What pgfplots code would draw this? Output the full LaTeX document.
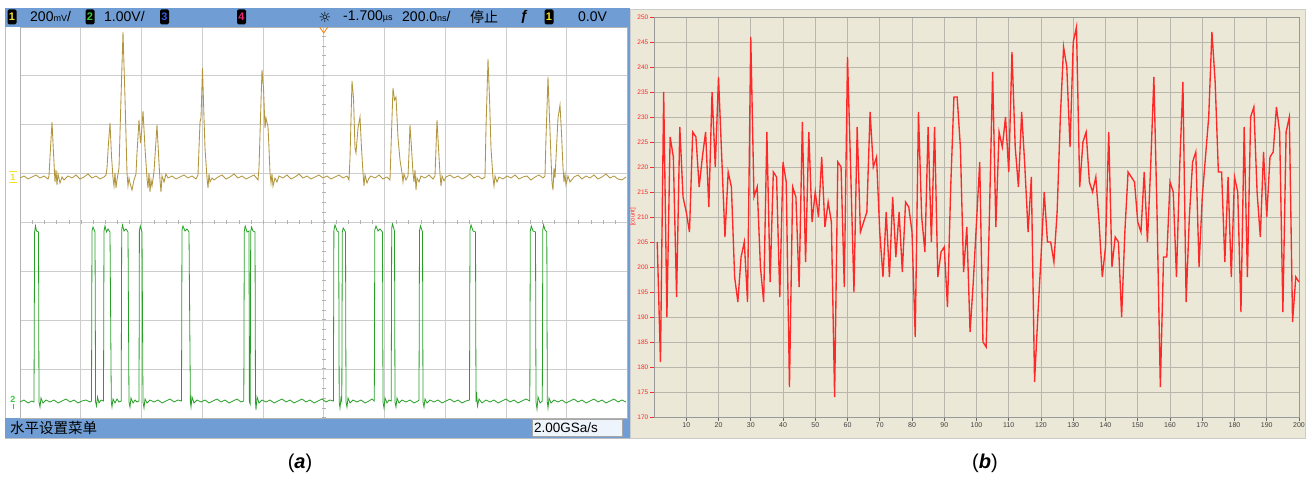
\documentclass[border=0pt]{standalone}
\usepackage{fontspec}
\setmainfont{Liberation Sans}
\newfontfamily\cjk{Noto Sans CJK SC}
\newfontfamily\dejavu{DejaVu Sans}
\usepackage{pgfplots}
\pgfplotsset{compat=1.18}
\definecolor{scopeblue}{RGB}{112,158,212}
\definecolor{yel}{RGB}{178,150,62}
\definecolor{grn}{RGB}{40,160,40}
\definecolor{beige}{RGB}{236,232,216}
\definecolor{gridg}{RGB}{205,205,205}
\definecolor{gridb}{RGB}{185,182,172}
\definecolor{redl}{RGB}{255,40,40}
\definecolor{ch3}{RGB}{50,90,230}
\definecolor{ch4}{RGB}{235,40,120}
\definecolor{chy}{RGB}{245,225,40}
\definecolor{chg}{RGB}{60,200,60}
\begin{document}
\begin{tikzpicture}
% ---------- panel (b) background ----------
\fill[white] (0pt,0pt) rectangle (1309pt,478pt);
\fill[beige] (630pt,40pt) rectangle (1305pt,469pt);
\draw[gray!40] (630pt,40pt) rectangle (1305pt,469pt);
% ---------- panel (b) axis ----------
\begin{axis}[xshift=654pt, yshift=61pt, scale only axis,
  width=645pt, height=400pt, xmin=0, xmax=200, ymin=170, ymax=250,
  xtick={10,20,30,40,50,60,70,80,90,100,110,120,130,140,150,160,170,180,190,200},
  xticklabels={10,20,30,40,50,60,70,80,90,100,110,120,130,140,150,160,170,180,190,200},
  ytick={170,175,180,185,190,195,200,205,210,215,220,225,230,235,240,245,250},
  yticklabels={170,175,180,185,190,195,200,205,210,215,220,225,230,235,240,245,250},
  grid=major, grid style={gridb, line width=0.8pt},
  axis line style={draw=gray!80, line width=0.8pt},
  tick pos=left, tick align=outside, major tick length=4pt,
  tick style={gray!80!black, line width=0.6pt},
  xticklabel style={font=\fontsize{7}{7}\selectfont, text=darkgray, inner sep=1.5pt},
  yticklabel style={font=\fontsize{6.5}{6.5}\selectfont, text=redl, inner sep=1.5pt},
  clip=false]
\pgfplotsinvokeforeach{170,175,...,250}{\draw[redl, line width=0.7pt] (axis cs:0,#1) -- ++(-4pt,0pt);}
\addplot[redl, line width=1.35pt] coordinates {
(1,205)(2,181)(3,235)(4,190)(5,226)(6,222)(7,194)(8,228)(9,214)(10,211)
(11,207)(12,227)(13,226)(14,216)(15,222)(16,227)(17,212)(18,235)(19,220)(20,238)
(21,222)(22,206)(23,219)(24,216)(25,198)(26,193)(27,202)(28,205)(29,193)(30,246)
(31,214)(32,216)(33,200)(34,193)(35,227)(36,197)(37,219)(38,218)(39,194)(40,221)
(41,217)(42,176)(43,216)(44,214)(45,196)(46,229)(47,201)(48,227)(49,209)(50,215)
(51,210)(52,222)(53,208)(54,213)(55,209)(56,174)(57,221)(58,220)(59,196)(60,242)
(61,219)(62,195)(63,228)(64,207)(65,209)(66,211)(67,231)(68,220)(69,222)(70,207)
(71,198)(72,211)(73,198)(74,214)(75,202)(76,211)(77,199)(78,213)(79,212)(80,207)
(81,186)(82,231)(83,210)(84,203)(85,228)(86,205)(87,228)(88,198)(89,203)(90,204)
(91,192)(92,216)(93,234)(94,234)(95,224)(96,199)(97,208)(98,187)(99,197)(100,209)
(101,221)(102,185)(103,184)(104,210)(105,239)(106,208)(107,227)(108,224)(109,230)(110,219)
(111,243)(112,224)(113,216)(114,231)(115,220)(116,207)(117,218)(118,177)(119,190)(120,202)
(121,215)(122,205)(123,205)(124,201)(125,211)(126,230)(127,244)(128,240)(129,224)(130,245)
(131,248)(132,216)(133,225)(134,227)(135,217)(136,215)(137,218)(138,209)(139,198)(140,204)
(141,227)(142,200)(143,206)(144,205)(145,190)(146,207)(147,219)(148,218)(149,217)(150,209)
(151,207)(152,219)(153,205)(154,220)(155,238)(156,210)(157,176)(158,202)(159,202)(160,217)
(161,215)(162,198)(163,220)(164,237)(165,193)(166,210)(167,221)(168,223)(169,200)(170,214)
(171,222)(172,230)(173,247)(174,237)(175,219)(176,219)(177,201)(178,218)(179,198)(180,218)
(181,215)(182,191)(183,228)(184,198)(185,230)(186,232)(187,215)(188,206)(189,223)(190,210)
(191,222)(192,223)(193,232)(194,227)(195,191)(196,227)(197,230)(198,189)(199,198)(200,197)
};
\end{axis}
% ---------- panel (a) window ----------
\fill[white] (5pt,40pt) rectangle (629pt,470pt);
\draw[gray!50] (5pt,40pt) rectangle (629pt,470pt);
\fill[scopeblue] (5pt,451pt) rectangle (627pt,470pt);
\fill[scopeblue] (5pt,40pt) rectangle (627pt,60pt);
\fill[scopeblue] (626.5pt,40pt) rectangle (629.5pt,470pt);
\begin{axis}[xshift=20pt, yshift=60pt, scale only axis,
  width=607pt, height=391pt, xmin=20, xmax=627, ymin=0, ymax=391,
  xtick={20,80.7,141.5,202.2,263,323.7,384.5,445.2,506,566.7,627.5},
  ytick={0,48.9,97.8,146.6,195.5,244.4,293.3,342.1,391},
  xticklabels={}, yticklabels={}, major tick length=0pt,
  grid=major, grid style={gridg, line width=0.8pt},
  axis line style={draw=gray!60, line width=0.8pt}, clip=true]
\draw[gray!60, line width=4pt, dash pattern=on 0.7pt off 9.08pt] (axis cs:323.7,0) -- (axis cs:323.7,391);
\draw[gray!60, line width=4pt, dash pattern=on 0.7pt off 11.44pt] (axis cs:20,195.5) -- (axis cs:627,195.5);
\draw[orange, line width=0.8pt] (axis cs:319.5,391) -- (axis cs:323.7,385) -- (axis cs:327.9,391);
\addplot[yel, line width=0.85pt] coordinates {
(20,240)(24,242)(28,239)(32,241)(36,243)(40,240)(44,242)(48,239)
(49,242)(50.5,270)(52,296)(53.5,265)(55,236)(56,248)(57,233)(58,244)(60,235)(62,241)(64,238)
(68,242)(72,240)(76,243)(80,239)(84,241)(88,244)(92,240)(96,242)(100,239)(104,241)(106,243)
(107,250)(108.5,275)(110,295)(111.5,262)(113,240)(114,232)(115,245)(116,230)(117,238)(118,244)
(119,250)(121,320)(123,386)(125,320)(127,245)(128,232)(129,240)(130,235)(132,228)(134,238)(136,244)
(137,265)(139,298)(140.5,275)(141.5,285)(143,307)(145,270)(147,240)(148,230)(149,245)(150,226)(151,238)(152,232)(154,246)
(155,262)(157,293)(159,255)(160,238)(161,226)(162,242)(164,236)(166,244)(168,240)
(172,242)(176,239)(180,241)(184,243)(188,240)(192,242)(196,239)(198,243)
(199,270)(200,296)(201,300)(202.5,350)(204,300)(205,270)(207,240)(208,230)(209,244)(210,236)(212,240)(214,238)
(218,241)(222,243)(226,239)(230,241)(234,244)(238,240)(242,242)(246,239)(250,241)(254,243)(258,238)
(259,250)(260.5,300)(262,348)(263.5,330)(265,290)(266,300)(268,291)(269,270)(270,245)(271,235)(272,244)(273,232)(275,240)(277,236)(279,242)
(283,240)(287,243)(291,239)(295,241)(299,244)(303,240)(307,242)(311,239)(315,241)(319,243)(323,240)(327,242)(331,239)(335,241)(339,243)(343,240)(347,242)(349,238)
(350,260)(352,337)(353.5,320)(355,270)(356,265)(358,290)(360,301)(361.5,270)(363,245)(364,232)(365,243)(367,235)(369,240)(371,242)
(375,240)(379,243)(383,239)(387,241)(390,238)
(391,270)(393,330)(394.5,318)(396,321)(398,280)(400,258)(402,245)(403,236)(404,244)(406,238)(408,242)
(409,265)(410,293)(411.5,270)(413,245)(414,236)(415,248)(416,228)(417,240)(419,236)(421,242)
(425,240)(429,243)(433,239)(435,242)
(436,270)(437,298)(438.5,270)(440,244)(441,232)(442,242)(444,237)(446,241)
(450,243)(454,240)(458,242)(462,239)(466,241)(470,244)(474,240)(478,242)(482,239)(485,241)
(486,290)(488,359)(489.5,320)(491,270)(492,255)(493,240)(494,232)(495,242)(497,236)(499,241)
(503,239)(507,242)(511,240)(515,243)(519,239)(523,241)(527,242)(531,238)(535,241)(539,243)(543,240)(545,242)
(546,280)(548,341)(549.5,300)(551,260)(552,235)(553,228)(554,250)(555,240)(556.5,270)(558,300)(560,313)(561.5,285)(563,250)(564,236)(565,244)(566,233)(568,242)(570,236)
(574,241)(578,243)(582,239)(586,242)(590,240)(594,243)(598,239)(602,241)(606,244)(610,240)(614,242)(618,239)(622,238)(626,241)
};
\addplot[grn, line width=0.8pt] coordinates {
(20,16)(24,18)(28,15)(32,17)(34,16)
(34.6,186)(35.5,192)(36.5,187)(38.5,186)(39,16)(40,11)(41,20)(43,15)(46,18)(50,16)(54,18)(58,15)(62,17)(66,19)(70,16)(74,18)(78,15)(82,17)(86,18)(90,16)(91.5,17)
(92,187)(93,191)(95,186)(95.6,16)(96.5,12)(97.5,21)(99,15)(101,18)(103.5,17)
(104,187)(105,192)(106.5,186)(108,189)(110,186)(111.3,16)(112,11)(113,19)(115,15)(117,19)(119,16)(121.2,17)
(121.7,188)(122.5,193)(124,187)(126,189)(128,186)(129,16)(130,11)(131,20)(133,15)(135,18)(137,16)(139,17)
(139.4,187)(140.3,192)(142,186)(143,16)(144,10)(145,19)(147,15)(150,18)(154,16)(158,18)(162,15)(166,17)(170,19)(174,16)(178,18)(181.5,17)
(182,188)(183,192)(185,187)(187,189)(189,186)(190.4,16)(191,11)(192,21)(194,15)(197,18)(201,16)(205,18)(209,15)(213,17)(217,19)(221,16)(225,18)(229,15)(233,17)(237,19)(241,16)(243.8,17)
(244.3,187)(245.2,192)(247,186)(249,187)(249.4,16)(250.2,14)(250.7,186)(251.5,191)(253,187)(255,186)(255.5,16)(256,8)(257,21)(259,15)(262,18)(266,16)(270,18)(274,15)(278,17)(282,19)(286,16)(290,18)(294,15)(298,17)(302,19)(306,16)(310,18)(314,15)(318,17)(322,19)(326,16)(330,18)(333.4,17)
(333.9,188)(335,193)(337,187)(338.7,186)(339.2,16)(340,10)(341,20)(341.8,17)(342.3,186)(343.2,190)(345.5,186)(346,16)(347,11)(348,20)(350,15)(353,18)(357,16)(361,18)(365,15)(369,17)(372,19)(374.3,17)
(374.8,188)(376,192)(378,187)(380,189)(382.5,186)(383,16)(384,10)(385,20)(387,15)(389,18)(391.2,17)
(391.7,190)(392.5,194)(394.5,187)(395,16)(396,11)(397,20)(399,15)(402,18)(406,16)(410,18)(414,15)(418,17)(419,18)
(419.5,187)(420.5,192)(422.5,186)(423,16)(424,11)(425,19)(427,15)(430,18)(434,16)(438,18)(442,15)(446,17)(450,19)(454,16)(458,18)(462,15)(466,17)(469.5,18)
(470,188)(471,193)(473,187)(475.5,186)(476,16)(476.5,26)(477.5,12)(479,19)(482,15)(486,18)(490,16)(494,18)(498,15)(502,17)(506,19)(510,16)(514,18)(518,15)(522,17)(526,19)(529.8,17)
(530.3,187)(531.3,192)(533,187)(535.5,186)(536,16)(537,9)(538,21)(540,15)(542.3,17)
(542.8,188)(543.6,193)(545,188)(546.8,186)(547.3,16)(548,10)(549,20)(551,15)(554,18)(558,16)(562,18)(566,15)(570,17)(574,19)(578,16)(582,18)(586,15)(590,17)(594,19)(598,16)(602,18)(606,15)(610,17)(614,19)(618,16)(622,18)(626,16)
};
\end{axis}
\node[rotate=90, text=redl, font=\fontsize{6}{6}\selectfont, inner sep=0pt] at (633pt,261pt) {[count]};
% left channel markers
\node[text=chy, font=\fontsize{9}{9}\selectfont\bfseries, inner sep=0pt] at (13pt,301pt) {1};
\draw[chy, line width=0.7pt] (9pt,306.5pt) -- (17pt,306.5pt) (9pt,295.5pt) -- (17pt,295.5pt);
\node[text=chg, font=\fontsize{9}{9}\selectfont\bfseries, inner sep=0pt] at (13pt,79pt) {2};
\draw[chg, line width=0.7pt] (13pt,74pt) -- (13pt,69pt);
% header contents
\tikzset{chbox/.style={fill=black, rounded corners=1.5pt, minimum width=9pt, minimum height=15pt, inner sep=0pt, font=\fontsize{11}{11}\selectfont\bfseries},
  hdr/.style={anchor=west, inner sep=0pt, font=\fontsize{14}{14}\selectfont}}
\node[chbox, text=chy] at (12pt,461pt) {1};
\node[hdr] at (30pt,461pt) {200{\fontsize{9}{9}\selectfont mV}/};
\node[chbox, text=chg] at (90pt,461pt) {2};
\node[hdr] at (104pt,461pt) {1.00V/};
\node[chbox, text=ch3] at (164.5pt,461pt) {3};
\node[chbox, text=ch4] at (241.5pt,461pt) {4};
\node[inner sep=0pt, font=\dejavu\fontsize{14}{14}\selectfont] at (325pt,461pt) {☼};
\node[hdr] at (343pt,461pt) {-1.700{\fontsize{9}{9}\selectfont µs}};
\node[hdr] at (402pt,461pt) {200.0{\fontsize{9}{9}\selectfont ns}/};
\node[hdr, font=\cjk\fontsize{14}{14}\selectfont] at (470pt,461pt) {停止};
\node[hdr, font=\fontsize{14}{14}\selectfont\bfseries\itshape] at (520pt,461pt) {ƒ};
\node[chbox, text=chy] at (549pt,461pt) {1};
\node[hdr] at (578pt,461pt) {0.0V};
% bottom bar contents
\node[anchor=west, inner sep=0pt, font=\cjk\fontsize{14.5}{14.5}\selectfont] at (10pt,50pt) {水平设置菜单};
\draw[gray!70, fill={rgb,255:red,238;green,244;blue,252}] (532pt,42pt) rectangle (622pt,59pt);
\node[anchor=west, inner sep=0pt, font=\fontsize{13.5}{13.5}\selectfont] at (534pt,50.5pt) {2.00GSa/s};
% captions
\node[font=\fontsize{20}{20}\selectfont] at (300pt,15pt) {(\textbf{\textit{a}})};
\node[font=\fontsize{20}{20}\selectfont] at (985pt,15pt) {(\textbf{\textit{b}})};
\end{tikzpicture}
\end{document}
